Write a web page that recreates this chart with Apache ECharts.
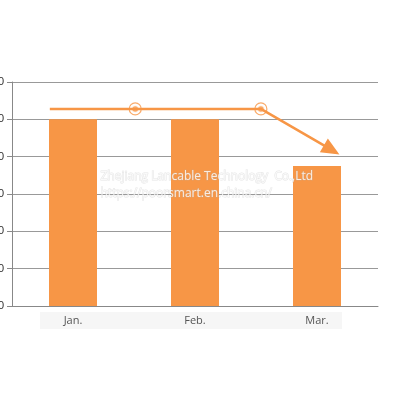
<!DOCTYPE html>
<html>
<head>
<meta charset="utf-8">
<script src="https://cdn.jsdelivr.net/npm/echarts@6/dist/echarts.min.js"></script>
<style>html,body{margin:0;padding:0;background:#fff}#chart{width:400px;height:400px}</style>
</head>
<body>
<div id="chart"></div>
<script>
    // chart data
    var categories = ['Jan.', 'Feb.', 'Mar.'];
    var barValues = [50, 50, 37.5];
    var yTicks = ['0', '10', '20', '30', '40', '50', '60'];
    // trend arrow: [x position on category scale, value]
    var trendPoints = [[0.31, 52.8], [1.01, 52.8], [2.04, 52.8], [2.62, 41.8]];
    var trendMarkers = [[1.01, 52.8], [2.04, 52.8]];

    var orange = '#f79646';
    var myChart = echarts.init(document.getElementById('chart'));

    myChart.setOption({
        animation: false,
        grid: {left: 12, right: 22, top: 82, bottom: 94, outerBoundsMode: 'none', containLabel: false},
        xAxis: [{
            type: 'category',
            data: categories,
            axisLine: {lineStyle: {color: '#888'}},
            axisTick: {lineStyle: {color: '#888'}, length: 5},
            axisLabel: {color: '#555', fontSize: 11, fontFamily: 'Open Sans', margin: 9}
        }, {
            type: 'value', min: 0, max: 3, show: false
        }],
        yAxis: {
            type: 'value', min: 0, max: 60, interval: 10,
            axisLine: {show: true, lineStyle: {color: '#888'}},
            axisTick: {show: true, lineStyle: {color: '#888'}},
            axisLabel: {
                color: '#333', fontSize: 11, margin: 8,
                formatter: function (v) { return yTicks[v / 10]; }
            },
            splitLine: {lineStyle: {color: '#999', width: 1.2}}
        },
        series: [{
            type: 'bar',
            data: barValues,
            barWidth: 48,
            itemStyle: {color: orange}
        }, {
            type: 'line',
            xAxisIndex: 1,
            data: trendPoints.map(function (p, i) {
                return {
                    value: p,
                    symbol: i === trendPoints.length - 1 ? 'triangle' : 'none',
                    symbolSize: [16, 18],
                    symbolRotate: -120
                };
            }),
            lineStyle: {color: orange, width: 2.5},
            itemStyle: {color: orange}
        }, {
            type: 'scatter',
            xAxisIndex: 1,
            data: trendMarkers,
            symbolSize: 7,
            itemStyle: {color: orange, borderColor: '#fff', borderWidth: 1.5}
        }, {
            type: 'scatter',
            xAxisIndex: 1,
            data: trendMarkers,
            symbolSize: 12,
            itemStyle: {color: 'rgba(0,0,0,0)', borderColor: orange, borderWidth: 1.2}
        }],
        graphic: [{
            type: 'rect', left: 40, top: 312, z: -1,
            shape: {width: 302, height: 17},
            style: {fill: '#f6f6f6'}
        }, {
            type: 'text', left: 100, top: 168, z: 100,
            style: {text: 'Zhejiang Lancable Technology  Co.,Ltd\nhttps://poorsmart.en.china.cn/',
                fill: 'rgba(255,255,255,0.8)', stroke: 'rgba(180,180,180,0.35)', lineWidth: 1,
                font: '12px Open Sans', lineHeight: 17}
        }]
    });
</script>
</body>
</html>
